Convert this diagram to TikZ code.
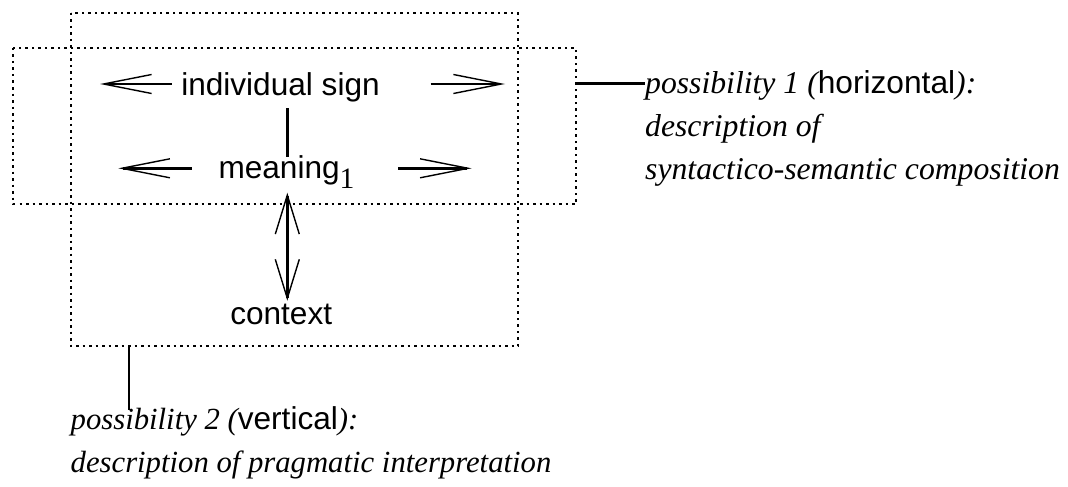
\documentclass[tikz,border=0pt]{standalone}
\usepackage{fontspec}
\setmainfont{Liberation Serif}
\newfontfamily\sansf{Liberation Sans}
\usetikzlibrary{arrows.meta}
\tikzset{
 dotbox/.style={line width=2.5pt, dash pattern=on 2.5pt off 4pt},
 lbl/.style={font=\sansf\fontsize{31.6}{36}\selectfont, inner sep=0pt},
 itl/.style={font=\itshape\fontsize{31.7}{38}\selectfont, inner sep=0pt, anchor=base west},
 itlb/.style={itl, font=\itshape\fontsize{30.7}{37}\selectfont},
 arr/.style={line width=2.5pt, -{Straight Barb[length=48pt,width=19pt,line width=1.4pt]}},
 darr/.style={line width=2.5pt, {Straight Barb[length=39pt,width=24pt,line width=1.4pt]}-{Straight Barb[length=39pt,width=24pt,line width=1.4pt]}},
 conn/.style={line width=2.4pt},
}
\begin{document}
\begin{tikzpicture}[x=1pt,y=-1pt]
\useasboundingbox (0,0) rectangle (1068,487);
% dotted frames
\draw[dotbox] (13,48) rectangle (576,204);
\draw[dotbox] (71,13) rectangle (518,346);
% labels
\node[lbl, anchor=base] (sign) at (280.5,95.5) {individual sign};
\node[lbl, anchor=base west] (mean) at (218.3,178.5) {meaning\raisebox{-10pt}{\rmfamily\fontsize{29.6}{30}\selectfont 1}};
\node[lbl, anchor=base] (ctx) at (281.2,324) {context};
% arrow ends
\coordinate (sl0) at (171.7,84);   \coordinate (sl) at (100,84);
\coordinate (sr0) at (430.7,84);   \coordinate (sr) at (505,84);
\coordinate (ml0) at (191.7,168.3); \coordinate (ml) at (118.3,168.3);
\coordinate (mr0) at (398.3,168.3); \coordinate (mr) at (471.7,168.3);
\coordinate (v0) at (287.3,108.3); \coordinate (v1) at (287.3,156.7);
\coordinate (d0) at (287.3,192.7); \coordinate (d1) at (287.3,300.7);
% arrows
\draw[arr] (sl0) -- (sl);
\draw[arr] (sr0) -- (sr);
\draw[arr] (ml0) -- (ml);
\draw[arr] (mr0) -- (mr);
\draw[conn] (v0) -- (v1);
\draw[darr] (d0) -- (d1);
% side texts
\node[itl] (p1a) at (645,93.5) {possibility 1 (\upshape\sansf horizontal\itshape\rmfamily ):};
\node[itl] (p1b) at (645,136.5) {description of};
\node[itl] (p1c) at (645,179.5) {syntactico-semantic composition};
\coordinate (c1) at (575,83.5);
\draw[conn] (c1) -- (c1 -| p1a.west);
\node[itlb] (p2a) at (70.5,429) {possibility 2 (\upshape\sansf\fontsize{31.6}{37}\selectfont vertical\itshape\rmfamily\fontsize{30.7}{37}\selectfont ):};
\node[itlb] (p2b) at (70.5,472.5) {description of pragmatic interpretation};
\coordinate (c2) at (129,347);
\coordinate (c3) at (129,410);
\draw[conn] (c2) -- (c3);
\end{tikzpicture}
\end{document}
